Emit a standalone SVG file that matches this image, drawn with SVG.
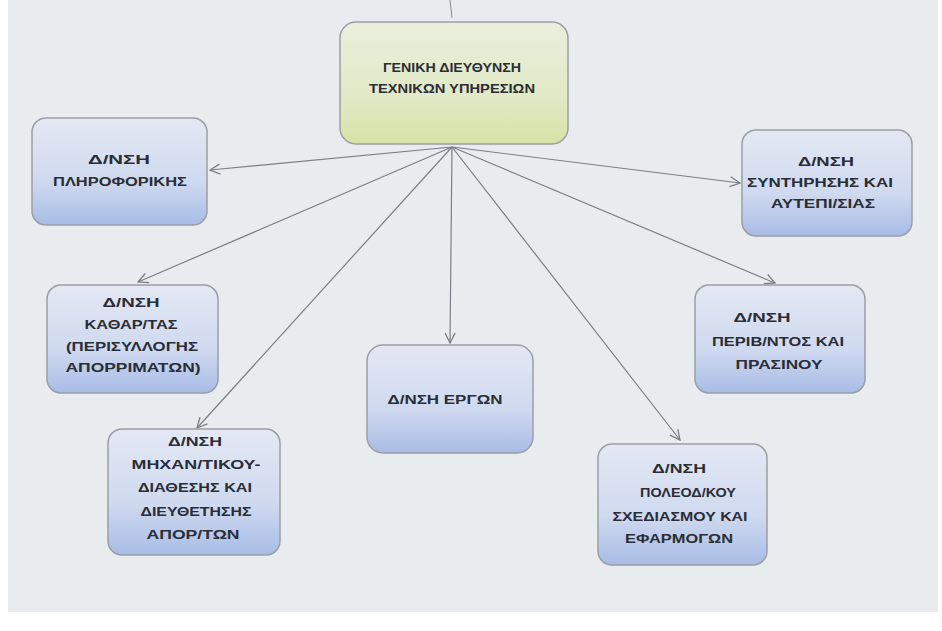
<svg xmlns="http://www.w3.org/2000/svg" width="942" height="631" viewBox="0 0 942 631">
<defs>
<linearGradient id="gBlue" x1="0" y1="0" x2="0" y2="1">
<stop offset="0" stop-color="#e3e8f3"/>
<stop offset="0.6" stop-color="#cfd9ef"/>
<stop offset="1" stop-color="#a7bce6"/>
</linearGradient>
<linearGradient id="gGreen" x1="0" y1="0" x2="0" y2="1">
<stop offset="0" stop-color="#e9efdc"/>
<stop offset="0.6" stop-color="#e1e9c6"/>
<stop offset="1" stop-color="#d7e3a6"/>
</linearGradient>
<marker id="arr" viewBox="0 0 12 12" refX="11" refY="6" markerWidth="12" markerHeight="12" markerUnits="userSpaceOnUse" orient="auto">
<path d="M1,1 L11,6 L1,11" fill="none" stroke="#7a7e86" stroke-width="1.3"/>
</marker>
</defs>
<style>
.box{stroke:#9a9ea6;stroke-width:1.5}
.blue{fill:url(#gBlue)}
.green{fill:url(#gGreen)}
.t{font-family:"Liberation Sans",Arial,sans-serif;font-weight:bold;font-size:12.5px;fill:#2a2d35;text-anchor:middle}
.c{stroke:#7a7e86;stroke-width:1.2;fill:none;marker-end:url(#arr)}
</style>
<rect x="0" y="0" width="942" height="631" fill="#ffffff"/>
<rect x="8" y="0" width="930" height="612" fill="#e9ecef"/>
<line x1="450" y1="0" x2="452" y2="18" stroke="#8a8e96" stroke-width="1"/>
<g id="connectors">
<line class="c" x1="452" y1="147" x2="210" y2="170"/>
<line class="c" x1="452" y1="147" x2="740" y2="183"/>
<line class="c" x1="452" y1="147" x2="138" y2="282"/>
<line class="c" x1="452" y1="147" x2="775" y2="283"/>
<line class="c" x1="452" y1="147" x2="450" y2="343"/>
<line class="c" x1="452" y1="147" x2="197" y2="428"/>
<line class="c" x1="452" y1="147" x2="680" y2="440"/>
</g>
<g id="n-top">
<rect class="box green" x="340" y="22" width="228" height="122" rx="16"/>
<text class="t" x="452" y="72" textLength="138" lengthAdjust="spacingAndGlyphs">ΓΕΝΙΚΗ ΔΙΕΥΘΥΝΣΗ</text>
<text class="t" x="452" y="93" textLength="166" lengthAdjust="spacingAndGlyphs">ΤΕΧΝΙΚΩΝ ΥΠΗΡΕΣΙΩΝ</text>
</g>
<g id="n-pliroforikis">
<rect class="box blue" x="32" y="118" width="175" height="107" rx="14"/>
<text class="t" x="119" y="164" textLength="62" lengthAdjust="spacingAndGlyphs">Δ/ΝΣΗ</text>
<text class="t" x="120" y="186" textLength="134" lengthAdjust="spacingAndGlyphs">ΠΛΗΡΟΦΟΡΙΚΗΣ</text>
</g>
<g id="n-syntirisis">
<rect class="box blue" x="742" y="130" width="170" height="106" rx="14"/>
<text class="t" x="826" y="166" textLength="56" lengthAdjust="spacingAndGlyphs">Δ/ΝΣΗ</text>
<text class="t" x="820" y="187" textLength="146" lengthAdjust="spacingAndGlyphs">ΣΥΝΤΗΡΗΣΗΣ ΚΑΙ</text>
<text class="t" x="823" y="208" textLength="104" lengthAdjust="spacingAndGlyphs">ΑΥΤΕΠΙ/ΣΙΑΣ</text>
</g>
<g id="n-katharotitas">
<rect class="box blue" x="47" y="285" width="171" height="108" rx="14"/>
<text class="t" x="131" y="307" textLength="57" lengthAdjust="spacingAndGlyphs">Δ/ΝΣΗ</text>
<text class="t" x="131" y="329" textLength="93" lengthAdjust="spacingAndGlyphs">ΚΑΘΑΡ/ΤΑΣ</text>
<text class="t" x="132" y="351" textLength="132" lengthAdjust="spacingAndGlyphs">(ΠΕΡΙΣΥΛΛΟΓΗΣ</text>
<text class="t" x="133" y="372" textLength="135" lengthAdjust="spacingAndGlyphs">ΑΠΟΡΡΙΜΑΤΩΝ)</text>
</g>
<g id="n-perivallontos">
<rect class="box blue" x="695" y="285" width="170" height="108" rx="14"/>
<text class="t" x="762" y="322" textLength="57" lengthAdjust="spacingAndGlyphs">Δ/ΝΣΗ</text>
<text class="t" x="778" y="346" textLength="132" lengthAdjust="spacingAndGlyphs">ΠΕΡΙΒ/ΝΤΟΣ ΚΑΙ</text>
<text class="t" x="779" y="369" textLength="87" lengthAdjust="spacingAndGlyphs">ΠΡΑΣΙΝΟΥ</text>
</g>
<g id="n-ergon">
<rect class="box blue" x="367" y="345" width="166" height="108" rx="16"/>
<text class="t" x="445" y="404" textLength="115" lengthAdjust="spacingAndGlyphs">Δ/ΝΣΗ ΕΡΓΩΝ</text>
</g>
<g id="n-michanologikou">
<rect class="box blue" x="108" y="429" width="172" height="126" rx="14"/>
<text class="t" x="195" y="446" textLength="54" lengthAdjust="spacingAndGlyphs">Δ/ΝΣΗ</text>
<text class="t" x="196" y="469" textLength="129" lengthAdjust="spacingAndGlyphs">ΜΗΧΑΝ/ΤΙΚΟΥ-</text>
<text class="t" x="195" y="492" textLength="114" lengthAdjust="spacingAndGlyphs">ΔΙΑΘΕΣΗΣ ΚΑΙ</text>
<text class="t" x="196" y="516" textLength="111" lengthAdjust="spacingAndGlyphs">ΔΙΕΥΘΕΤΗΣΗΣ</text>
<text class="t" x="193" y="539" textLength="93" lengthAdjust="spacingAndGlyphs">ΑΠΟΡ/ΤΩΝ</text>
</g>
<g id="n-poleodomikou">
<rect class="box blue" x="598" y="444" width="169" height="121" rx="14"/>
<text class="t" x="679" y="473" textLength="54" lengthAdjust="spacingAndGlyphs">Δ/ΝΣΗ</text>
<text class="t" x="688" y="497" textLength="96" lengthAdjust="spacingAndGlyphs">ΠΟΛΕΟΔ/ΚΟΥ</text>
<text class="t" x="680" y="521" textLength="135" lengthAdjust="spacingAndGlyphs">ΣΧΕΔΙΑΣΜΟΥ ΚΑΙ</text>
<text class="t" x="679" y="543" textLength="108" lengthAdjust="spacingAndGlyphs">ΕΦΑΡΜΟΓΩΝ</text>
</g>
</svg>
